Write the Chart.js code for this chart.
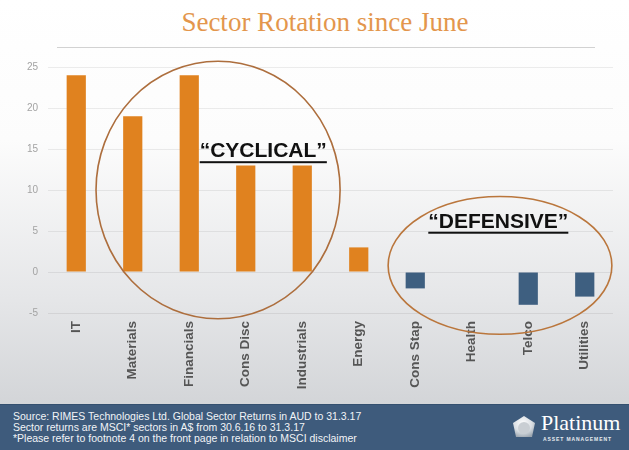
<!DOCTYPE html>
<html>
<head>
<meta charset="utf-8">
<script src="https://cdn.jsdelivr.net/npm/chart.js@4.4.1/dist/chart.umd.min.js"></script>
<style>
  html,body{margin:0;padding:0}
  body{
    width:629px;height:450px;position:relative;overflow:hidden;
    font-family:'Liberation Sans',Arial,sans-serif;
    background:linear-gradient(to bottom,#ffffff 0px,#fcfcfc 140px,#e5e6e8 300px,#d3d5d8 404px);
  }
  #title{position:absolute;left:0;top:9px;width:650px;text-align:center;
    font:27px/27px 'Liberation Serif','Times New Roman',serif;color:#E3964C}
  #rule{position:absolute;left:57px;top:47px;width:538px;height:1px;background:#d2d2d2}
  #wrap{position:absolute;left:0;top:0;width:629px;height:403px}
  #foot{position:absolute;left:0;top:404px;width:629px;height:46px;background:#3E5B7C;
    border-top:1px solid #34506f;color:#fff}
  #src{position:absolute;left:13px;top:6px;font-size:10.5px;line-height:11px;color:#f2f4f7}
  #logo{position:absolute;left:512px;top:10px}
  #brand{position:absolute;left:541px;top:6px;font:22px/24px 'Liberation Serif',serif;color:#fff}
  #sub{position:absolute;left:543px;top:31px;font-size:5px;font-weight:bold;letter-spacing:0.9px;color:#e8ecf0}
</style>
</head>
<body>
<div id="title">Sector Rotation since June</div>
<div id="rule"></div>
<div id="wrap"><canvas id="chart"></canvas></div>
<div id="foot">
  <div id="src">Source: RIMES Technologies Ltd. Global Sector Returns in AUD to 31.3.17<br>Sector returns are MSCI* sectors in A$ from 30.6.16 to 31.3.17<br>*Please refer to footnote 4 on the front page in relation to MSCI disclaimer</div>
  <svg id="logo" width="24" height="26" viewBox="0 0 24 26">
    <defs><radialGradient id="g" cx="0.45" cy="0.35" r="0.7">
      <stop offset="0" stop-color="#ffffff"/><stop offset="0.6" stop-color="#d8dde2"/><stop offset="1" stop-color="#9aa4ae"/></radialGradient></defs>
    <polygon points="12,1 23,8 20,22 4,22 1,8" fill="url(#g)"/>
    <circle cx="12" cy="13" r="6" fill="#c9ced3"/>
  </svg>
  <div id="brand">Platinum</div>
  <div id="sub">ASSET MANAGEMENT</div>
</div>
<script>
// sector returns (%), 30.6.16 to 31.3.17
const sectors = ['IT','Materials','Financials','Cons Disc','Industrials','Energy','Cons Stap','Health','Telco','Utilities'];
const returns = [24, 19, 24, 13, 13, 3, -2, 0, -4, -3];
const yTicks = { min: -5, max: 25, step: 5 };

const ORANGE = '#E0821F';
const BLUE = '#3E5F80';
const barColors = returns.map(v => v >= 0 ? ORANGE : BLUE);

// rings + captions, in axis units (category index / value)
const rings = [
  { x: 2.51, y: 10, rx: 2.16, ry: 15.7, color: '#AD6E3D' },
  { x: 7.5, y: 0.8, rx: 1.98, ry: 8.4, color: '#BA763C' }
];
const captions = [
  { text: '\u201CCYCLICAL\u201D', x: 3.31, y: 14 },
  { text: '\u201CDEFENSIVE\u201D', x: 7.47, y: 5.4 }
];

const overlay = {
  id: 'overlay',
  afterDraw(chart){
    const { ctx, scales: { x, y } } = chart;
    const cw = x.getPixelForValue(1) - x.getPixelForValue(0);
    const uh = y.getPixelForValue(0) - y.getPixelForValue(1);
    ctx.save();
    rings.forEach(r => {
      ctx.beginPath();
      ctx.ellipse(x.getPixelForValue(r.x), y.getPixelForValue(r.y), r.rx*cw, r.ry*uh, 0, 0, Math.PI*2);
      ctx.strokeStyle = r.color;
      ctx.lineWidth = 1.6;
      ctx.stroke();
    });
    ctx.font = 'bold 21px "Liberation Sans", Arial, sans-serif';
    ctx.fillStyle = '#111';
    ctx.textAlign = 'center';
    ctx.textBaseline = 'alphabetic';
    captions.forEach(c => {
      const px = x.getPixelForValue(c.x), py = y.getPixelForValue(c.y);
      ctx.fillText(c.text, px, py);
      const w = ctx.measureText(c.text).width;
      ctx.fillRect(px - w/2, py + 4, w, 2);
    });
    ctx.restore();
  }
};

new Chart(document.getElementById('chart'), {
  type: 'bar',
  data: {
    labels: sectors,
    datasets: [{ data: returns, backgroundColor: barColors, barPercentage: 0.34, categoryPercentage: 1 }]
  },
  options: {
    responsive: true,
    maintainAspectRatio: false,
    animation: false,
    layout: { padding: { top: 67, right: 16, left: 0, bottom: 0 } },
    plugins: { legend: { display: false }, tooltip: { enabled: false } },
    scales: {
      x: {
        grid: { display: false },
        border: { display: false },
        ticks: {
          autoSkip: false, maxRotation: 90, minRotation: 90, padding: 0,
          color: '#555', font: { family: '"Liberation Sans", Arial, sans-serif', size: 13.5, weight: 'bold' }
        },
        afterFit: s => { s.height = 90; }
      },
      y: {
        min: yTicks.min, max: yTicks.max,
        grid: { color: 'rgba(0,0,0,0.07)', drawTicks: false },
        border: { display: false },
        ticks: {
          stepSize: yTicks.step, padding: 10,
          color: '#a3a3a3', font: { family: '"Liberation Sans", Arial, sans-serif', size: 10 }
        },
        afterFit: s => { s.width = 48; }
      }
    }
  },
  plugins: [overlay]
});
</script>
</body>
</html>
